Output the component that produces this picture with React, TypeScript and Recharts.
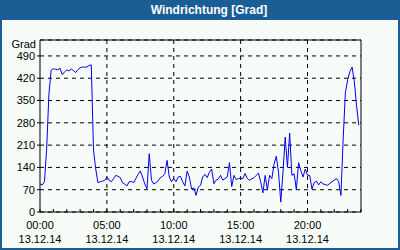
import React from "react";
import {
  CartesianGrid,
  Line,
  LineChart,
  ReferenceLine,
  XAxis,
  YAxis,
} from "recharts";

// wind direction in degrees, one value every 10 minutes from 00:00
const WIND_DIR = [
  88, 85, 95, 200, 370, 445, 450, 448, 447, 451, 431, 440,
  446, 443, 449, 444, 438, 447, 453, 455, 455, 455, 460, 462,
  195, 135, 92, 95, 97, 99, 110, 100, 95, 105, 115, 112,
  108, 92, 88, 82, 95, 96, 92, 105, 118, 129, 110, 88,
  73, 183, 100, 88, 92, 98, 108, 112, 120, 162, 110, 95,
  105, 95, 110, 112, 95, 82, 128, 110, 72, 76, 52, 78,
  84, 110, 118, 108, 125, 135, 89, 100, 104, 115, 100, 105,
  110, 155, 80, 115, 102, 105, 106, 104, 121, 105, 100, 104,
  108, 115, 122, 95, 60, 115, 70, 115, 105, 150, 175, 125,
  31, 125, 235, 140, 248, 115, 120, 70, 155, 130, 110, 135,
  115, 115, 72, 92, 97, 85, 95, 88, 86, 84, 90, 95,
  100, 105, 95, 52, 230, 375, 415, 440, 455, 410, 335, 272,
];
const STEPS_PER_HOUR = 6;

const HOUR_TICKS = Array.from({ length: 25 }, (_, h) => h);
const GRID_HOURS = [5, 10, 15, 20];
const HOUR_LABELS: Record<number, string> = {
  0: "00:00",
  5: "05:00",
  10: "10:00",
  15: "15:00",
  20: "20:00",
};
const DATE_LABEL = "13.12.14";

const GRAD_TICKS = [0, 70, 140, 210, 280, 350, 420, 490];
const COMPASS_DEG = [0, 45, 90, 135, 180, 225, 270, 315, 360, 405, 450, 495, 540];
const COMPASS_LABELS = ["N", "NE", "E", "SE", "S", "SW", "W", "NW", "N", "NE", "E", "SE", "S"];
const Y_MAX = 540;

const FRAME = "#1b5e95";
const BG = "#f8fcf8";
const FONT = "'Liberation Sans', Arial, sans-serif";

const data = WIND_DIR.map((v, i) => ({ t: i / STEPS_PER_HOUR, v }));

function HourTick(props: any) {
  const { x, y, payload } = props;
  const h = payload.value as number;
  const label = HOUR_LABELS[h];
  return (
    <g>
      <line x1={x} x2={x} y1={y} y2={y - 3} stroke="#000" />
      {label && (
        <>
          <text x={x} y={y + 17} textAnchor="middle" fontSize={11} fill="#000">
            {label}
          </text>
          <text x={x} y={y + 31} textAnchor="middle" fontSize={11} fill="#000">
            {DATE_LABEL}
          </text>
        </>
      )}
    </g>
  );
}

export default function App() {
  return (
    <div
      style={{
        position: "absolute",
        left: 0,
        top: 0,
        width: 400,
        height: 250,
        fontFamily: FONT,
        background: BG,
      }}
    >
      <div
        style={{
          position: "absolute",
          inset: 0,
          border: `2px solid ${FRAME}`,
          boxSizing: "border-box",
        }}
      />
      <div
        style={{
          position: "absolute",
          left: 0,
          top: 0,
          width: 400,
          height: 20,
          background: FRAME,
          color: "#fff",
          fontWeight: "bold",
          fontSize: 12,
          lineHeight: "20px",
          textAlign: "center",
          paddingLeft: 18,
          boxSizing: "border-box",
        }}
      >
        Windrichtung [Grad]
      </div>
      <div
        style={{
          position: "absolute",
          right: 364,
          top: 38,
          fontSize: 11,
          color: "#000",
        }}
      >
        Grad
      </div>
      <div style={{ position: "absolute", left: 0, top: 0 }}>
        <LineChart
          width={400}
          height={250}
          data={data}
          margin={{ top: 40, right: 0, bottom: 0, left: 0 }}
        >
          <CartesianGrid
            yAxisId="left"
            vertical={false}
            stroke="#000"
            strokeDasharray="4 4"
          />
          <XAxis
            dataKey="t"
            type="number"
            domain={[0, 24]}
            ticks={HOUR_TICKS}
            interval={0}
            height={38}
            tickSize={0}
            tickMargin={0}
            tickLine={false}
            axisLine={{ stroke: "#000" }}
            tick={<HourTick />}
          />
          <YAxis
            yAxisId="left"
            domain={[0, Y_MAX]}
            ticks={GRAD_TICKS}
            interval={0}
            width={40}
            tickSize={3}
            tickMargin={2}
            tick={{ fontSize: 11, fill: "#000" }}
            tickLine={{ stroke: "#000" }}
            axisLine={{ stroke: "#000" }}
          />
          <YAxis
            yAxisId="right"
            orientation="right"
            domain={[0, Y_MAX]}
            ticks={COMPASS_DEG}
            interval={0}
            width={39}
            tickSize={3}
            tickMargin={1}
            tickFormatter={(d: number) => COMPASS_LABELS[COMPASS_DEG.indexOf(d)]}
            tick={{ fontSize: 11, fill: "#000" }}
            tickLine={{ stroke: "#000" }}
            axisLine={{ stroke: "#000" }}
          />
          {GRID_HOURS.map((h) => (
            <ReferenceLine
              key={h}
              x={h}
              yAxisId="left"
              stroke="#000"
              strokeDasharray="4 4"
            />
          ))}
          <ReferenceLine y={Y_MAX} yAxisId="left" stroke="#000" />
          <Line
            yAxisId="left"
            dataKey="v"
            type="linear"
            stroke="#0000ee"
            strokeWidth={1}
            dot={false}
            isAnimationActive={false}
          />
        </LineChart>
      </div>
    </div>
  );
}
